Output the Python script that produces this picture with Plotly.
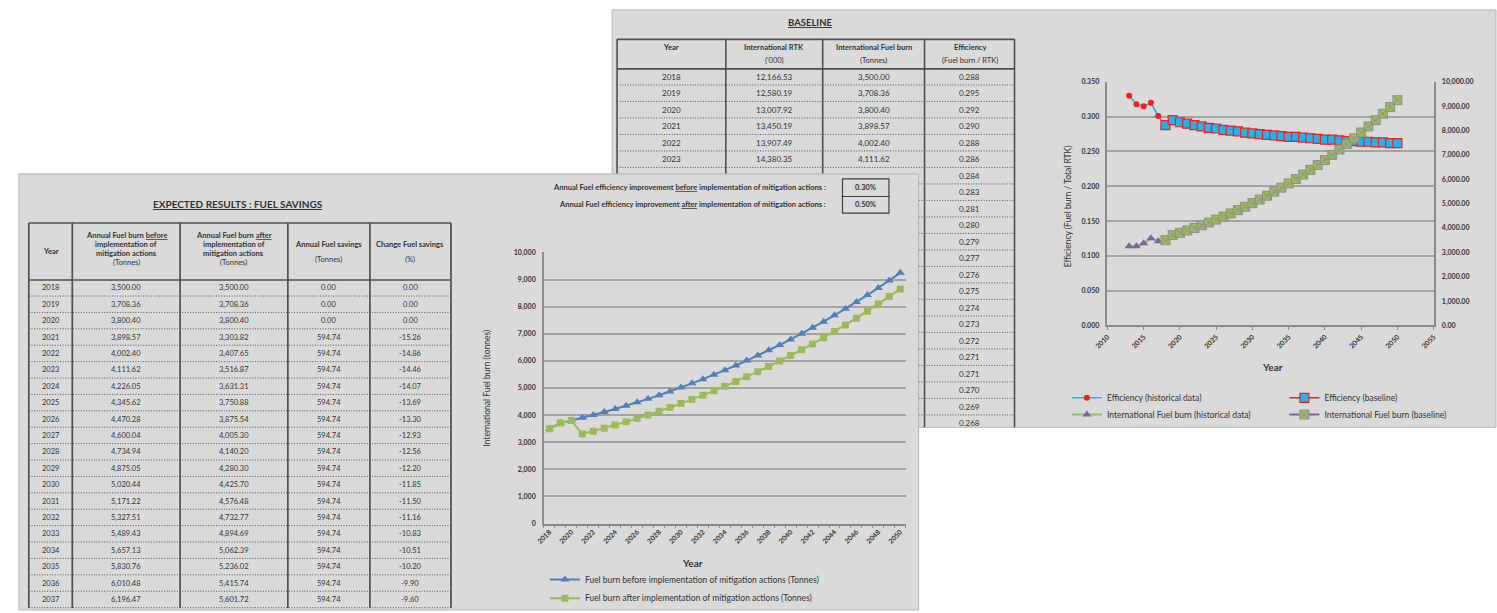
import plotly.graph_objects as go

W, H = 1497, 613
FONT = "Lato"
INK = "#333333"
PANEL = "#dadada"
EDGE = "#b4b4b4"
RULE = "#505050"
AXIS = "#8c8c8c"
GRID = "#a3a3a3"
BLUE = "#4f81bd"
GREEN = "#9bbb59"
PURPLE = "#8064a2"
CYAN = "#1fb4ee"
RED = "#ff1a1a"
DOTS = "1px,1.6px"

# ---------------- data ----------------
years = list(range(2018, 2051))

fuel_before = [3500.00, 3708.36, 3800.40, 3898.57, 4002.40, 4111.62, 4226.05, 4345.62, 4470.28,
               4600.04, 4734.94, 4875.05, 5020.44, 5171.22, 5327.51, 5489.43, 5657.13, 5830.76,
               6010.48, 6196.47, 6388.5, 6586.9, 6791.9, 7003.6, 7222.3, 7448.1, 7681.3, 7922.1,
               8170.8, 8427.6, 8692.8, 8966.6, 9249.4]
fuel_after = [3500.00, 3708.36, 3800.40, 3303.82, 3407.65, 3516.87, 3631.31, 3750.88, 3875.54,
              4005.30, 4140.20, 4280.30, 4425.70, 4576.48, 4732.77, 4894.69, 5062.39, 5236.02,
              5415.74, 5601.72, 5793.8, 5992.2, 6197.2, 6408.9, 6627.6, 6853.4, 7086.6, 7327.4,
              7576.1, 7832.9, 8098.1, 8371.9, 8654.7]

savings_years = list(range(2018, 2038))
fuel_savings = [0.00, 0.00, 0.00, 594.74, 594.74, 594.74, 594.74, 594.74, 594.74, 594.74,
                594.74, 594.74, 594.74, 594.74, 594.74, 594.74, 594.74, 594.74, 594.74, 594.74]
change_pct = [0.00, 0.00, 0.00, -15.26, -14.86, -14.46, -14.07, -13.69, -13.30, -12.93,
              -12.56, -12.20, -11.85, -11.50, -11.16, -10.83, -10.51, -10.20, -9.90, -9.60]

improvement_before = "0.30%"
improvement_after = "0.50%"

baseline_years = list(range(2018, 2024))
baseline_rtk = [12166.53, 12580.19, 13007.92, 13450.19, 13907.49, 14380.35]
efficiency_table = [0.288, 0.295, 0.292, 0.290, 0.288, 0.286, 0.284, 0.283, 0.281, 0.280, 0.279,
                    0.277, 0.276, 0.275, 0.274, 0.273, 0.272, 0.271, 0.271, 0.270, 0.269, 0.268]
efficiency_baseline = efficiency_table + [0.267, 0.267, 0.266, 0.265, 0.265, 0.264, 0.264,
                                          0.263, 0.263, 0.262, 0.262]

hist_years = [2013, 2014, 2015, 2016, 2017, 2018]
hist_efficiency = [0.330, 0.318, 0.315, 0.320, 0.301, 0.288]
hist_fuel = [3250, 3250, 3370, 3580, 3460, 3500]


# ---------------- helpers ----------------
def px(x):
    return x / W


def py(y):
    return 1 - y / H


shapes = []
annotations = []


def rect(x0, y0, x1, y1, fill=None, color=EDGE, width=1):
    shapes.append(dict(type="rect", xref="paper", yref="paper", layer="below",
                       x0=px(x0), x1=px(x1), y0=py(y1), y1=py(y0),
                       fillcolor=fill if fill else "rgba(0,0,0,0)",
                       line=dict(color=color, width=width)))


def seg(x0, y0, x1, y1, color=RULE, width=1.3, dash="solid"):
    shapes.append(dict(type="line", xref="paper", yref="paper", layer="below",
                       x0=px(x0), x1=px(x1), y0=py(y0), y1=py(y1),
                       line=dict(color=color, width=width, dash=dash)))


def text(x, y, s, size=8, bold=False, xanchor="center", angle=0, color=INK):
    annotations.append(dict(x=px(x), y=py(y), xref="paper", yref="paper", showarrow=False,
                            text=s, textangle=angle, xanchor=xanchor, yanchor="middle",
                            font=dict(family=FONT, size=size, color=color,
                                      weight=700 if bold else 400)))


def money(v):
    return f"{v:,.2f}"


# ---------------- BASELINE sheet ----------------
rect(605, 5, 1499, 430, fill=PANEL)
text(805, 18, "<u>BASELINE</u>", size=9.5, bold=True)

b_cols = [610, 720, 818, 921, 1012]
b_top, b_head, b_row0, b_step = 35, 65, 73, 16.8
seg(b_cols[0], b_top, b_cols[-1], b_top, width=1.6)
seg(b_cols[0], b_head, b_cols[-1], b_head, width=1.6)
for xc in b_cols:
    seg(xc, b_top, xc, 430, width=1.6)
for i in range(22):
    yl = b_row0 + b_step * (i + 0.5)
    if yl < 429:
        seg(b_cols[0], yl, b_cols[-1], yl, color="#555555", width=1, dash=DOTS)

b_mid = [(b_cols[i] + b_cols[i + 1]) / 2 for i in range(4)]
b_heads = [("Year", ""), ("International RTK", "('000)"),
           ("International Fuel burn", "(Tonnes)"), ("Efficiency", "(Fuel burn / RTK)")]
for xm, (h1, h2) in zip(b_mid, b_heads):
    text(xm, 43, h1, size=7.5, bold=True)
    if h2:
        text(xm, 57, h2, size=7.5)
for i, yr in enumerate(baseline_years):
    yy = b_row0 + b_step * i
    text(b_mid[0], yy, str(yr), size=8)
    text(b_mid[1], yy, money(baseline_rtk[i]), size=8)
    text(b_mid[2], yy, money(fuel_before[i]), size=8)
for i, eff in enumerate(efficiency_table):
    yy = b_row0 + b_step * i
    if yy < 430:
        text(b_mid[3], yy, f"{eff:.3f}", size=8)

# captions of the baseline chart
text(1066, 205, "Efficiency (Fuel burn / Total RTK)", size=8.5, angle=-90)
text(1273, 369, "Year", size=10, bold=True)

# ---------------- FUEL SAVINGS sheet ----------------
rect(5, 172, 915, 616, fill=PANEL)
text(227, 203, "<u>EXPECTED RESULTS : FUEL SAVINGS</u>", size=10, bold=True)

s_cols = [15, 59, 168, 277, 360, 442]
s_top, s_head, s_row0, s_step = 222, 280, 288, 16.7
seg(s_cols[0], s_top, s_cols[-1], s_top, width=1.7)
seg(s_cols[0], s_head, s_cols[-1], s_head, width=1.7)
for xc in s_cols:
    seg(xc, s_top, xc, 614, width=1.7)
for i in range(20):
    yl = s_row0 + s_step * (i + 0.5)
    seg(s_cols[0], yl, s_cols[-1], yl, color="#555555", width=1, dash=DOTS)

s_mid = [(s_cols[i] + s_cols[i + 1]) / 2 for i in range(5)]
text(s_mid[0], 251.5, "Year", size=7.5, bold=True)
for xm, word in ((s_mid[1], "before"), (s_mid[2], "after")):
    text(xm, 235, f"Annual Fuel burn <u>{word}</u>", size=7.5, bold=True)
    text(xm, 244, "implementation of", size=7.5, bold=True)
    text(xm, 253, "mitigation actions", size=7.5, bold=True)
    text(xm, 262.5, "(Tonnes)", size=7.5)
text(s_mid[3], 244, "Annual Fuel savings", size=7.5, bold=True)
text(s_mid[3], 259, "(Tonnes)", size=7.5)
text(s_mid[4], 244, "Change Fuel savings", size=7.5, bold=True)
text(s_mid[4], 259, "(%)", size=7.5)
for i, yr in enumerate(savings_years):
    yy = s_row0 + s_step * i
    text(s_mid[0], yy, str(yr), size=7.5)
    text(s_mid[1], yy, money(fuel_before[i]), size=7.5)
    text(s_mid[2], yy, money(fuel_after[i]), size=7.5)
    text(s_mid[3], yy, money(fuel_savings[i]), size=7.5)
    text(s_mid[4], yy, f"{change_pct[i]:.2f}", size=7.5)

# efficiency-improvement inputs above the chart
text(823, 186, "Annual Fuel efficiency improvement <u>before</u> implementation of mitigation actions :",
     size=7.5, bold=True, xanchor="right")
text(823, 203, "Annual Fuel efficiency improvement <u>after</u> implementation of mitigation actions :",
     size=7.5, bold=True, xanchor="right")
rect(838, 177, 885, 195, color="#404040", width=1.2)
rect(838, 195, 885, 212, color="#404040", width=1.2)
text(861.5, 186, improvement_before, size=7.5, bold=True)
text(861.5, 203.5, improvement_after, size=7.5, bold=True)

text(478, 390, "International Fuel burn (tonnes)", size=8.5, angle=-90)
text(686, 568, "Year", size=10, bold=True)

# ---------------- traces ----------------
fig = go.Figure()

fig.add_trace(go.Scatter(
    x=years, y=fuel_before, mode="lines+markers", xaxis="x", yaxis="y", legend="legend",
    name="Fuel burn before implementation of mitigation actions (Tonnes)",
    line=dict(color=BLUE, width=2), marker=dict(symbol="triangle-up", size=8, color=BLUE)))
fig.add_trace(go.Scatter(
    x=years, y=fuel_after, mode="lines+markers", xaxis="x", yaxis="y", legend="legend2",
    name="Fuel burn after implementation of mitigation actions (Tonnes)",
    line=dict(color=GREEN, width=2), marker=dict(symbol="square", size=7, color=GREEN)))

fig.add_trace(go.Scatter(
    x=hist_years, y=hist_efficiency, mode="lines+markers", xaxis="x2", yaxis="y2",
    legend="legend3", name="Efficiency (historical data)",
    line=dict(color=CYAN, width=1.6), marker=dict(symbol="circle", size=6, color=RED)))
fig.add_trace(go.Scatter(
    x=years, y=efficiency_baseline, mode="lines+markers", xaxis="x2", yaxis="y2",
    legend="legend4", name="Efficiency (baseline)",
    line=dict(color=RED, width=1.5),
    marker=dict(symbol="square", size=9, color=CYAN, line=dict(color=RED, width=1.2))))
fig.add_trace(go.Scatter(
    x=hist_years, y=hist_fuel, mode="lines+markers", xaxis="x2", yaxis="y3",
    legend="legend5", name="International Fuel burn (historical data)",
    line=dict(color=GREEN, width=2), marker=dict(symbol="triangle-up", size=8, color=PURPLE)))
fig.add_trace(go.Scatter(
    x=years, y=fuel_before, mode="lines+markers", xaxis="x2", yaxis="y3",
    legend="legend6", name="International Fuel burn (baseline)",
    line=dict(color=PURPLE, width=2),
    marker=dict(symbol="square-x", size=9, color=GREEN, line=dict(color="#8f8f8f", width=1))))

tick_font = dict(family=FONT, size=7, color=INK, weight=700)


def legend_at(x_text, y_mid):
    return dict(x=px(x_text - 40), y=py(y_mid), xanchor="left", yanchor="middle",
                orientation="h", bgcolor="rgba(0,0,0,0)", borderwidth=0,
                font=dict(family=FONT, size=8.5, color=INK), itemclick=False)


fig.update_layout(
    width=W, height=H, margin=dict(l=0, r=0, t=0, b=0),
    paper_bgcolor="white", plot_bgcolor="rgba(0,0,0,0)",
    shapes=shapes, annotations=annotations,
    xaxis=dict(domain=[px(536), px(902)], anchor="y", range=[2017.5, 2050.5],
               tickmode="array", tickvals=years[::2], ticktext=[str(v) for v in years[::2]],
               tickangle=-45, tickfont=tick_font, ticks="", showline=True,
               linecolor=AXIS, linewidth=1.5, showgrid=False, zeroline=False,
               minor=dict(ticks="outside", tickmode="linear", tick0=2017.5, dtick=1,
                          ticklen=3, tickcolor=AXIS, showgrid=False)),
    yaxis=dict(domain=[py(528), py(252)], anchor="x", range=[0, 10000], dtick=1000,
               tickformat=",d", tickfont=tick_font, ticks="", showline=True,
               linecolor=AXIS, linewidth=1.5, gridcolor=GRID, gridwidth=1.5,
               zeroline=False, ticklabelstandoff=5),
    xaxis2=dict(domain=[px(1106), px(1436)], anchor="y2", range=[2010, 2055], dtick=5,
                tickangle=-45, tickfont=tick_font, ticks="outside", ticklen=3,
                tickcolor=AXIS, showline=True, linecolor=AXIS, linewidth=1.5,
                showgrid=False, zeroline=False),
    yaxis2=dict(domain=[py(326.3), py(78.3)], anchor="x2", range=[0, 0.35], dtick=0.05,
                tickformat=".3f", tickfont=tick_font, ticks="", showline=True,
                linecolor=AXIS, linewidth=1.5, gridcolor=GRID, gridwidth=1.5,
                zeroline=False, ticklabelstandoff=5),
    yaxis3=dict(overlaying="y2", side="right", anchor="x2", range=[0, 10000], dtick=1000,
                tickformat=",.2f", tickfont=tick_font, ticks="", showline=True,
                linecolor=AXIS, linewidth=1.5, showgrid=False, zeroline=False,
                ticklabelstandoff=5),
    legend=legend_at(577, 585),
    legend2=legend_at(577, 604),
    legend3=legend_at(1105, 400),
    legend4=legend_at(1325, 400),
    legend5=legend_at(1105, 417),
    legend6=legend_at(1325, 417),
    showlegend=True,
)

fig.write_html("out.html")
